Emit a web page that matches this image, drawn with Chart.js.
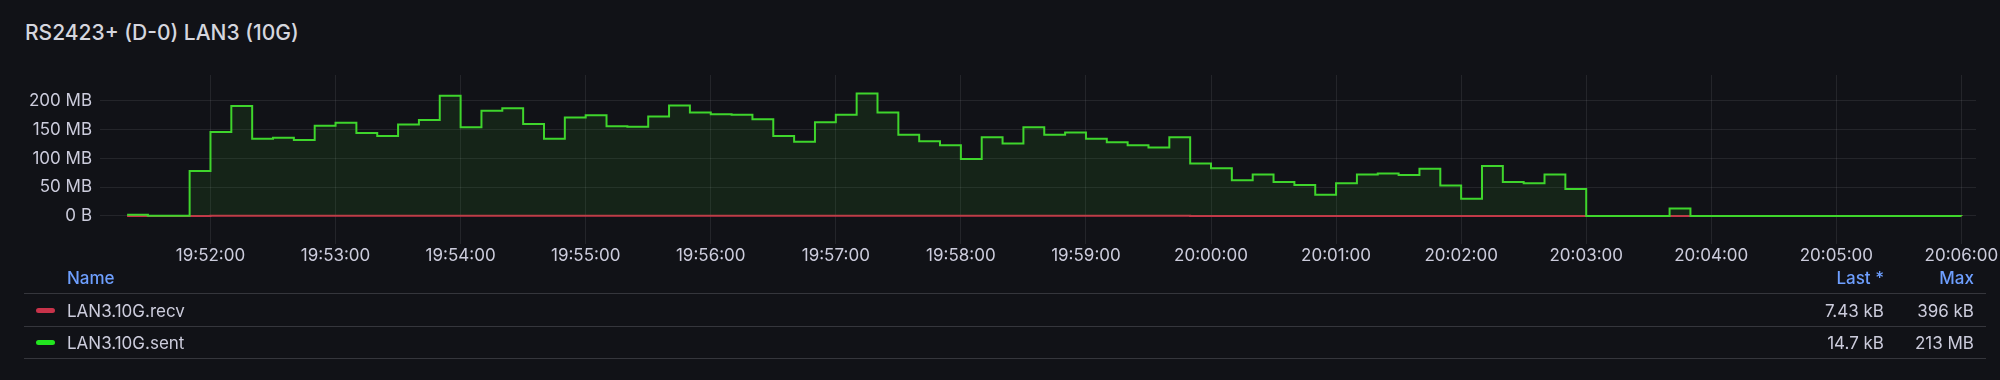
<!DOCTYPE html>
<html>
<head>
<meta charset="utf-8">
<script src="https://cdn.jsdelivr.net/npm/chart.js@4.4.1/dist/chart.umd.min.js"></script>
<style>
  html, body { margin:0; padding:0; background:#111217; width:2000px; height:380px; overflow:hidden;
    font-family: Inter, "Noto Sans", "DejaVu Sans", sans-serif; }
  #wrap { position:absolute; left:0; top:0; width:2000px; height:270px; }
  .t { position:absolute; white-space:nowrap; line-height:20px; }
  .title { left:25px; top:20px; font-size:21px; font-weight:500; color:#d5d6de; line-height:25px; }
  .hdr { font-size:17px; font-weight:500; color:#6e9fff; top:268px; }
  .row { font-size:17px; color:#ccccdc; }
  .sep { position:absolute; left:24px; width:1962px; height:1px; background:#35363c; }
  .sw { position:absolute; left:36px; width:19px; height:5px; border-radius:3px; }
</style>
</head>
<body>
<div class="t title">RS2423+ (D-0) LAN3 (10G)</div>
<div id="wrap"><canvas id="c" width="2000" height="270"></canvas></div>

<div class="t hdr" style="left:67px;">Name</div>
<div class="t hdr" style="right:116px;">Last *</div>
<div class="t hdr" style="right:26px;">Max</div>
<div class="sep" style="top:293px;"></div>

<div class="sw" style="top:308px;background:#c8334a;"></div>
<div class="t row" style="left:67px;top:301px;">LAN3.10G.recv</div>
<div class="t row" style="right:116px;top:301px;">7.43 kB</div>
<div class="t row" style="right:26px;top:301px;">396 kB</div>
<div class="sep" style="top:326px;"></div>

<div class="sw" style="top:340px;background:#22e51f;"></div>
<div class="t row" style="left:67px;top:333px;">LAN3.10G.sent</div>
<div class="t row" style="right:116px;top:333px;">14.7 kB</div>
<div class="t row" style="right:26px;top:333px;">213 MB</div>
<div class="sep" style="top:358px;"></div>

<script>
// ---- data ----
const times = [
  '19:51:20','19:51:30','19:51:40','19:51:50',
  '19:52:00','19:52:10','19:52:20','19:52:30','19:52:40','19:52:50',
  '19:53:00','19:53:10','19:53:20','19:53:30','19:53:40','19:53:50',
  '19:54:00','19:54:10','19:54:20','19:54:30','19:54:40','19:54:50',
  '19:55:00','19:55:10','19:55:20','19:55:30','19:55:40','19:55:50',
  '19:56:00','19:56:10','19:56:20','19:56:30','19:56:40','19:56:50',
  '19:57:00','19:57:10','19:57:20','19:57:30','19:57:40','19:57:50',
  '19:58:00','19:58:10','19:58:20','19:58:30','19:58:40','19:58:50',
  '19:59:00','19:59:10','19:59:20','19:59:30','19:59:40','19:59:50',
  '20:00:00','20:00:10','20:00:20','20:00:30','20:00:40','20:00:50',
  '20:01:00','20:01:10','20:01:20','20:01:30','20:01:40','20:01:50',
  '20:02:00','20:02:10','20:02:20','20:02:30','20:02:40','20:02:50',
  '20:03:00','20:03:10','20:03:20','20:03:30','20:03:40','20:03:50',
  '20:04:00','20:04:10','20:04:20','20:04:30','20:04:40','20:04:50',
  '20:05:00','20:05:10','20:05:20','20:05:30','20:05:40','20:05:50',
  '20:06:00'
];
// MB
const sent = [
  2, 0.5, 0.5, 78,
  146, 191, 134, 136, 132, 157,
  162, 144, 139, 159, 167, 209,
  154, 183, 187, 160, 134, 171,
  175, 156, 155, 173, 192, 180,
  177, 176, 168, 139, 129, 163,
  176, 213, 180, 141, 130, 123,
  99, 137, 126, 154, 141, 145,
  134, 128, 123, 119, 137, 91,
  83, 62, 72, 59, 54, 37,
  57, 72, 74, 71, 82, 53,
  30, 87, 59, 57, 72, 47,
  0.02, 0.01, 0.02, 0.01, 13, 0.02,
  0.01, 0.02, 0.01, 0.02, 0.01, 0.02,
  0.01, 0.02, 0.01, 0.02, 0.01, 0.02,
  0.0147
];
const recv = [
  0.012, 0.008, 0.009, 0.152,
  0.285, 0.372, 0.262, 0.268, 0.259, 0.306,
  0.318, 0.281, 0.272, 0.311, 0.327, 0.396,
  0.301, 0.356, 0.364, 0.313, 0.262, 0.334,
  0.342, 0.305, 0.303, 0.338, 0.374, 0.351,
  0.346, 0.344, 0.328, 0.272, 0.252, 0.318,
  0.343, 0.389, 0.351, 0.276, 0.254, 0.241,
  0.194, 0.268, 0.246, 0.301, 0.276, 0.283,
  0.262, 0.25, 0.241, 0.233, 0.268, 0.178,
  0.162, 0.121, 0.141, 0.115, 0.106, 0.073,
  0.112, 0.141, 0.145, 0.139, 0.16, 0.104,
  0.059, 0.17, 0.115, 0.111, 0.141, 0.092,
  0.009, 0.008, 0.007, 0.008, 0.031, 0.009,
  0.008, 0.007, 0.009, 0.008, 0.007, 0.008,
  0.009, 0.007, 0.008, 0.008, 0.007, 0.008,
  0.00743
];
const xTickLabels = ['19:52:00','19:53:00','19:54:00','19:55:00','19:56:00','19:57:00','19:58:00',
  '19:59:00','20:00:00','20:01:00','20:02:00','20:03:00','20:04:00','20:05:00','20:06:00'];
const yTickValues = [0, 50, 100, 150, 200];
const xRange = ['19:51:07', '20:06:07'];
const yRange = [-48, 245];

// ---- helpers ----
function toSec(s) { const p = s.split(':').map(Number); return p[0]*3600 + p[1]*60 + p[2]; }
function fmtTime(v) {
  const h = Math.floor(v/3600), m = Math.floor((v%3600)/60), s = Math.round(v%60);
  const z = n => String(n).padStart(2,'0');
  return z(h)+':'+z(m)+':'+z(s);
}
const FONT = { family: 'Inter, "Noto Sans", sans-serif', size: 17 };
const GRID = 'rgba(204,204,220,0.10)';

const ctx = document.getElementById('c').getContext('2d');
new Chart(ctx, {
  type: 'line',
  data: {
    datasets: [
      { label: 'LAN3.10G.sent', data: times.map((t,i)=>({x: toSec(t), y: sent[i]})),
        borderColor: '#3fd52c', backgroundColor: 'rgba(55,200,40,0.10)', fill: 'origin',
        stepped: true, pointRadius: 0, borderWidth: 2 },
      { label: 'LAN3.10G.recv', data: times.map((t,i)=>({x: toSec(t), y: recv[i]})),
        borderColor: '#c8334a', backgroundColor: 'rgba(200,51,74,0.10)', fill: 'origin',
        stepped: true, pointRadius: 0, borderWidth: 2 }
    ]
  },
  options: {
    responsive: false, animation: false,
    layout: { padding: { left: 0, right: 24, top: 75, bottom: 0 } },
    plugins: { legend: { display: false }, tooltip: { enabled: false }, title: { display: false } },
    scales: {
      x: {
        type: 'linear', min: toSec(xRange[0]), max: toSec(xRange[1]),
        afterBuildTicks: s => { s.ticks = xTickLabels.map(l => ({ value: toSec(l) })); },
        afterFit: s => { s.height = 26.4; s.paddingLeft = 0; s.paddingRight = 0; },
        ticks: { callback: v => fmtTime(v), color: '#ccccdc', font: FONT, padding: 2,
                 maxRotation: 0, minRotation: 0, autoSkip: false },
        grid: { color: GRID, drawTicks: false },
        border: { display: false }
      },
      y: {
        min: yRange[0], max: yRange[1],
        afterBuildTicks: s => { s.ticks = yTickValues.map(v => ({ value: v })); },
        afterFit: s => { s.width = 100; },
        ticks: { callback: v => v === 0 ? '0 B' : v + ' MB', color: '#ccccdc', font: FONT, padding: 8 },
        grid: { color: GRID, drawTicks: false },
        border: { display: false }
      }
    }
  }
});
</script>
</body>
</html>
